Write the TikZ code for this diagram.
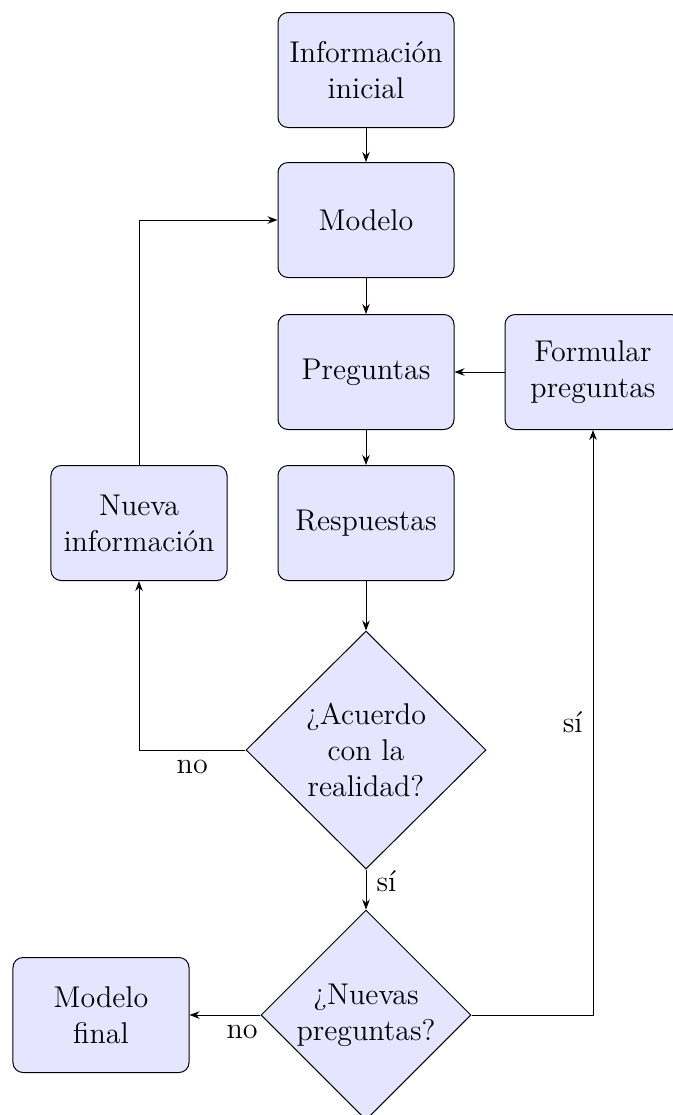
\documentclass[tikz,border=0pt]{standalone}
\usetikzlibrary{shapes.geometric,arrows.meta}
\begin{document}
\begin{tikzpicture}[x=0.4pt,y=-0.4pt,
  every node/.style={font=\fontsize{12}{14.4}\selectfont},
  block/.style={rectangle, draw=black, line width=0.4pt, fill=blue!10, rounded corners=4pt,
    minimum width=70.4pt, minimum height=46pt, inner sep=0pt, align=center},
  decision/.style={diamond, draw=black, line width=0.4pt, fill=blue!10, inner sep=0pt, align=center},
  conn/.style={-{Stealth[length=4pt,width=3pt]}, line width=0.4pt},
  lbl/.style={inner sep=4pt}]
\useasboundingbox (0,0) rectangle (673,1115);
\node[block] (ini) at (366,70) {Información\\inicial};
\node[block] (mod) at (366,220) {Modelo};
\node[block] (preg) at (366,372) {Preguntas};
\node[block] (form) at (593,372) {Formular\\preguntas};
\node[block] (nueva) at (139,523) {Nueva\\información};
\node[block] (resp) at (366,523) {Respuestas};
\node[decision, minimum width=96pt, minimum height=95.2pt] (acu) at (366,750) {¿Acuerdo\\con la\\realidad?};
\node[decision, minimum width=84pt, minimum height=84pt] (nuevas) at (366,1015) {¿Nuevas\\preguntas?};
\node[block] (fin) at (101,1015) {Modelo\\final};

\draw[conn] (ini) -- (mod);
\draw[conn] (mod) -- (preg);
\draw[conn] (preg) -- (resp);
\draw[conn] (resp) -- (acu);
\draw[conn] (acu) -- node[lbl, pos=0.3, right] {sí} (nuevas);
\draw[conn] (form) -- (preg);
\draw[conn] (acu.west) -| node[lbl, pos=0.25, below] {no} (nueva.south);
\draw[conn] (nueva.north) |- (mod.west);
\draw[conn] (nuevas.west) -- node[lbl, pos=0.26, below] {no} (fin.east);
\draw[conn] (nuevas.east) -| node[lbl, pos=0.75, left] {sí} (form.south);
\end{tikzpicture}
\end{document}
